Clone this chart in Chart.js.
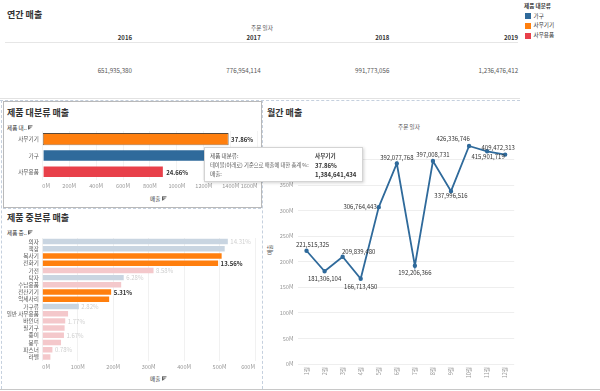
<!DOCTYPE html>
<html>
<head>
<meta charset="utf-8">
<script src="https://cdn.jsdelivr.net/npm/chart.js@4.4.0/dist/chart.umd.min.js"></script>
<style>
body{margin:0;width:600px;height:391px;background:#fff;position:relative;overflow:hidden;font-family:"Noto Sans CJK KR","Noto Sans",sans-serif;color:#333}
.t{position:absolute;white-space:nowrap;line-height:1}
.title{font-size:9px;font-weight:bold;color:#333}
.small{font-size:5.6px;color:#555}
.num{font-size:6.2px;color:#555;text-align:right}
.yr{font-size:6px;font-weight:bold;color:#333;text-align:right}
canvas{position:absolute}
.sw{position:absolute;width:6px;height:6px}
#tip{position:absolute;left:204px;top:147px;width:157px;height:33px;background:#fff;border:1px solid #d4d4d4;box-shadow:1px 1px 3px rgba(0,0,0,.18)}
.hline{position:absolute;height:0}
</style>
</head>
<body>
<!-- 연간 매출 -->
<div class="t title" style="left:7px;top:10px">연간 매출</div>
<div class="t small" style="left:240px;top:26px;width:44px;text-align:center">주문 일자</div>
<div class="hline" style="left:5px;top:42px;width:513px;border-top:1px solid #e6e6e6"></div>
<div class="hline" style="left:0;top:98px;width:520px;border-top:1px solid #e2e2e2"></div>
<div id="years"></div>

<!-- 범례 -->
<div class="t" style="left:524px;top:4px;font-size:5.6px;font-weight:bold;color:#333">제품 대분류</div>
<div id="legend"></div>

<!-- 패널 테두리 -->
<div class="hline" style="left:0;top:100px;width:520px;border-top:1px dashed #c5d0de"></div>
<div style="position:absolute;left:262px;top:100px;width:0;height:289px;border-left:1px dashed #c5d0de"></div>
<div style="position:absolute;left:1px;top:100px;width:0;height:289px;border-left:1px dashed #c5d0de"></div>
<div style="position:absolute;left:3px;top:101px;width:257px;height:105px;border:1px solid #b9b9b9"></div>
<div class="hline" style="left:3px;top:208px;width:258px;border-top:1px dashed #c5d0de"></div>
<div class="hline" style="left:0;top:389px;width:600px;border-top:1px solid #c8c8c8"></div>

<!-- 제품 대분류 매출 -->
<div class="t title" style="left:7px;top:108px">제품 대분류 매출</div>
<div class="t small" style="left:7px;top:125px;color:#333">제품 대.. <svg width="5" height="5" viewBox="0 0 5 5"><path d="M0.5 0.5V4.5M0.5 0.8H4.5M0.5 2.2H3.5M0.5 3.6H2.3" stroke="#444" stroke-width="0.8"/></svg></div>
<canvas id="c1" width="262" height="62" style="left:0;top:131px"></canvas>
<div class="t small" style="left:150px;top:196px;color:#333">매출 <svg width="5" height="5" viewBox="0 0 5 5"><path d="M0.5 0.5V4.5M0.5 0.8H4.5M0.5 2.2H3.5M0.5 3.6H2.3" stroke="#444" stroke-width="0.8"/></svg></div>

<!-- 제품 중분류 매출 -->
<div class="t title" style="left:7px;top:213px">제품 중분류 매출</div>
<div class="t small" style="left:7px;top:230px;color:#333">제품 중.. <svg width="5" height="5" viewBox="0 0 5 5"><path d="M0.5 0.5V4.5M0.5 0.8H4.5M0.5 2.2H3.5M0.5 3.6H2.3" stroke="#444" stroke-width="0.8"/></svg></div>
<canvas id="c2" width="262" height="136" style="left:0;top:238px"></canvas>
<div class="t small" style="left:150px;top:376px;color:#333">매출 <svg width="5" height="5" viewBox="0 0 5 5"><path d="M0.5 0.5V4.5M0.5 0.8H4.5M0.5 2.2H3.5M0.5 3.6H2.3" stroke="#444" stroke-width="0.8"/></svg></div>

<!-- 월간 매출 -->
<div class="t title" style="left:267px;top:108px">월간 매출</div>
<div class="t small" style="left:387px;top:125px;width:44px;text-align:center">주문 일자</div>
<div class="t small" style="left:266px;top:247px;transform:rotate(-90deg)">매출</div>
<canvas id="c3" width="258" height="259" style="left:262px;top:130px"></canvas>

<!-- 툴팁 -->
<div id="tip">
  <div class="t small" style="left:5px;top:6px">제품 대분류:</div>
  <div class="t small" style="left:5px;top:15px;font-size:5.3px">테이블(아래로) 기준으로 매출에 대한 총계 %:</div>
  <div class="t small" style="left:5px;top:24px">매출:</div>
  <div class="t" id="tv1" style="left:110px;top:6px;font-size:5.6px;font-weight:bold"></div>
  <div class="t" id="tv2" style="left:110px;top:15px;font-size:6px;font-weight:bold"></div>
  <div class="t" id="tv3" style="left:110px;top:24px;font-size:6px;font-weight:bold"></div>
</div>

<script>
// 연간 매출
const years = ['2016', '2017', '2018', '2019'];
const yearSales = [651935380, 776954114, 991773056, 1236476412];

// 제품 대분류
const legendCats = ['가구', '사무기기', '사무용품'];
const majorCats = ['사무기기', '가구', '사무용품'];
const majorSales = [1384641434, 1370650000, 901850000];

// 제품 중분류
const subCats = ['의자', '책장', '복사기', '전화기', '가전', '탁자', '수납용품', '전산기기', '악세사리',
  '가구류', '일반 사무용품', '바인더', '필기구', '종이', '봉투', '파스너', '라벨'];
const subParent = ['가구', '가구', '사무기기', '사무기기', '사무용품', '가구', '사무용품', '사무기기', '사무기기',
  '가구', '사무용품', '사무용품', '사무용품', '사무용품', '사무용품', '사무용품', '사무용품'];
const subSales = [523340000, 514510000, 505900000, 495910000, 313780000, 229670000, 222500000, 194190000, 188600000,
  103130000, 72700000, 64730000, 62900000, 61070000, 52800000, 28530000, 22840000];
const pctShown = ['의자', '전화기', '가전', '탁자', '전산기기', '가구류', '바인더', '종이', '파스너'];

// 월간 매출
const months = ['1월', '2월', '3월', '4월', '5월', '6월', '7월', '8월', '9월', '10월', '11월', '12월'];
const monthSales = [221515325, 181306104, 209839480, 166713450, 306764443, 392077768,
  192206366, 397008731, 337996516, 426336746, 415901719, 409472313];
const monthTicks = [0, 50000000, 100000000, 150000000, 200000000, 250000000, 300000000, 350000000, 400000000];

const selected = '사무기기';
const catColor = {'가구': '#2f6a9b', '사무기기': '#ff7f0e', '사무용품': '#e8404a'};
const fadeColor = {'가구': '#c9d5e1', '사무기기': '#ffcf9e', '사무용품': '#f4c8cb'};
const FONT = '"Noto Sans CJK KR", "Noto Sans", sans-serif';
const fmt = v => v.toLocaleString('en-US');
const mLabel = v => Math.round(v / 1e6) + 'M';

// 연간 표
let h = '';
years.forEach((y, i) => {
  const right = 132 + i * 128.7;
  h += `<div class="t yr" style="left:${right - 40}px;top:35px;width:40px">${y}</div>`;
  h += `<div class="t num" style="left:${right - 60}px;top:68px;width:60px">${fmt(yearSales[i])}</div>`;
});
document.getElementById('years').innerHTML = h;

let lg = '';
legendCats.forEach((c, i) => {
  const top = 13.3 + i * 9.7;
  lg += `<div class="sw" style="left:525px;top:${top}px;background:${catColor[c]}"></div>`;
  lg += `<div class="t small" style="left:533.5px;top:${top + 0.3}px;color:#333">${c}</div>`;
});
document.getElementById('legend').innerHTML = lg;

const totalSales = subSales.reduce((a, b) => a + b, 0);
const selIdx = majorCats.indexOf(selected);
document.getElementById('tv1').textContent = selected;
document.getElementById('tv2').textContent = (majorSales[selIdx] / totalSales * 100).toFixed(2) + '%';
document.getElementById('tv3').textContent = fmt(majorSales[selIdx]);

function barLabelPlugin(textFn, colorFn, fontFn) {
  return {
    id: 'barLabels',
    afterDatasetsDraw(chart) {
      const ctx = chart.ctx;
      chart.getDatasetMeta(0).data.forEach((bar, i) => {
        const t = textFn(i);
        if (!t) return;
        ctx.save();
        ctx.font = fontFn(i);
        ctx.fillStyle = colorFn(i);
        ctx.textBaseline = 'middle';
        ctx.fillText(t, bar.x + 2.5, bar.y + 0.5);
        ctx.restore();
      });
    }
  };
}

const tickFont = {family: FONT, size: 5.6};
// 세로 범주축: 고정 폭, 위아래 여백 없음
const catAxisFit = s => { s.width = 42.3; s.paddingTop = 0; s.paddingBottom = 0; };

// 제품 대분류 막대
new Chart(document.getElementById('c1'), {
  type: 'bar',
  data: {
    labels: majorCats,
    datasets: [{
      data: majorSales,
      backgroundColor: majorCats.map(c => catColor[c]),
      borderColor: majorCats.map(c => c === selected ? '#5a4a3a' : 'rgba(0,0,0,0)'),
      borderWidth: 0.8,
      borderSkipped: false,
      categoryPercentage: 1,
      barPercentage: 0.74
    }]
  },
  options: {
    indexAxis: 'y',
    responsive: false,
    animation: false,
    layout: {padding: {right: 4.4}},
    plugins: {legend: {display: false}, tooltip: {enabled: false}},
    scales: {
      x: {
        min: 0, max: 1600000000,
        ticks: {stepSize: 200000000, align: 'inner', callback: mLabel, color: '#999', font: tickFont, padding: 3, maxRotation: 0, autoSkip: false},
        grid: {color: '#f3f3f3', drawTicks: false},
        border: {display: false},
        afterFit: s => { s.height = 13; }
      },
      y: {
        ticks: {color: '#555', font: tickFont, padding: 3.5},
        grid: {display: false, drawTicks: false},
        border: {display: false},
        afterFit: catAxisFit
      }
    }
  },
  plugins: [barLabelPlugin(
    i => (majorSales[i] / totalSales * 100).toFixed(2) + '%',
    () => '#333',
    () => `600 6px ${FONT}`
  )]
});

// 제품 중분류 막대
new Chart(document.getElementById('c2'), {
  type: 'bar',
  data: {
    labels: subCats,
    datasets: [{
      data: subSales,
      backgroundColor: subParent.map(p => p === selected ? catColor[p] : fadeColor[p]),
      categoryPercentage: 1,
      barPercentage: 0.76
    }]
  },
  options: {
    indexAxis: 'y',
    responsive: false,
    animation: false,
    layout: {padding: {right: 7}},
    plugins: {legend: {display: false}, tooltip: {enabled: false}},
    scales: {
      x: {
        min: 0, max: 600000000,
        ticks: {stepSize: 100000000, align: 'inner', callback: mLabel, color: '#999', font: tickFont, padding: 3, maxRotation: 0, autoSkip: false},
        grid: {color: '#f1f1f1', drawTicks: false},
        border: {display: false},
        afterFit: s => { s.height = 13.5; }
      },
      y: {
        ticks: {color: '#555', font: tickFont, padding: 3.5, autoSkip: false},
        grid: {display: false, drawTicks: false},
        border: {display: false},
        afterFit: catAxisFit
      }
    }
  },
  plugins: [barLabelPlugin(
    i => pctShown.includes(subCats[i]) ? (subSales[i] / totalSales * 100).toFixed(2) + '%' : '',
    i => subParent[i] === selected ? '#333' : '#cfcfcf',
    i => subParent[i] === selected ? `600 6px ${FONT}` : `6px ${FONT}`
  )]
});

// 월간 매출 꺾은선 - 라벨 위치(점 기준)
const labelOffset = [[6, -6], [0, 7.5], [16, -5], [0, 8], ['left', 0], [0, -6], [0, 7.5], [0, -6], [0, 5], [-16, -7], [1, 5], [-7, -7]];
const lineLabels = {
  id: 'lineLabels',
  afterDatasetsDraw(chart) {
    const ctx = chart.ctx;
    chart.getDatasetMeta(0).data.forEach((pt, i) => {
      const [dx, dy] = labelOffset[i];
      ctx.save();
      ctx.font = `6px ${FONT}`;
      ctx.fillStyle = '#333';
      ctx.textBaseline = 'middle';
      if (dx === 'left') {
        ctx.textAlign = 'right';
        ctx.fillText(fmt(monthSales[i]), pt.x - 2, pt.y + dy);
      } else {
        ctx.textAlign = 'center';
        ctx.fillText(fmt(monthSales[i]), pt.x + dx, pt.y + dy);
      }
      ctx.restore();
    });
  }
};

new Chart(document.getElementById('c3'), {
  type: 'line',
  data: {
    labels: months,
    datasets: [{
      data: monthSales,
      borderColor: '#2f6a9b',
      backgroundColor: '#2f6a9b',
      borderWidth: 1.8,
      pointRadius: 1.3,
      pointBackgroundColor: '#2f6a9b',
      tension: 0
    }]
  },
  options: {
    responsive: false,
    animation: false,
    layout: {padding: {top: 9, right: 0}},
    plugins: {legend: {display: false}, tooltip: {enabled: false}},
    scales: {
      x: {
        offset: true,
        ticks: {minRotation: 90, maxRotation: 90, color: '#999', font: tickFont, padding: 3, autoSkip: false},
        grid: {display: false, drawTicks: false},
        border: {display: false},
        afterFit: s => { s.height = 25; }
      },
      y: {
        min: 0, max: 440000000,
        afterBuildTicks: s => { s.ticks = monthTicks.map(v => ({value: v})); },
        ticks: {callback: mLabel, color: '#999', font: tickFont, padding: 4},
        grid: {color: '#eeeeee', drawTicks: false},
        border: {display: false},
        afterFit: s => { s.width = 35.5; s.paddingTop = 0; s.paddingBottom = 0; }
      }
    }
  },
  plugins: [lineLabels]
});
</script>
</body>
</html>
